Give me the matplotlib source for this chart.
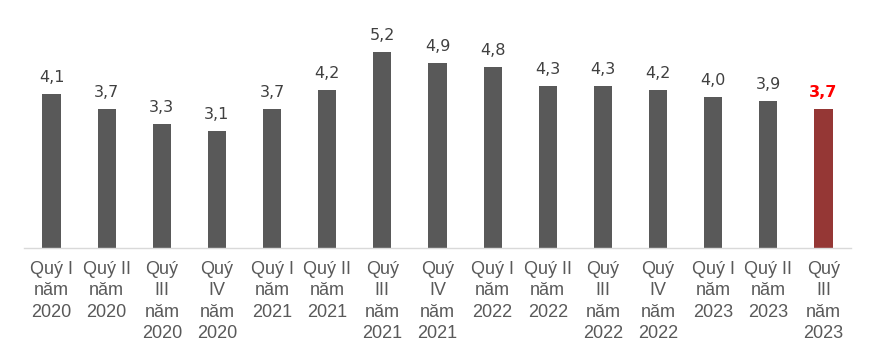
import matplotlib
matplotlib.use("Agg")
import matplotlib.pyplot as plt

categories = ["Quý I\nnăm\n2020", "Quý II\nnăm\n2020", "Quý\nIII\nnăm\n2020", "Quý\nIV\nnăm\n2020",
              "Quý I\nnăm\n2021", "Quý II\nnăm\n2021", "Quý\nIII\nnăm\n2021", "Quý\nIV\nnăm\n2021",
              "Quý I\nnăm\n2022", "Quý II\nnăm\n2022", "Quý\nIII\nnăm\n2022", "Quý\nIV\nnăm\n2022",
              "Quý I\nnăm\n2023", "Quý II\nnăm\n2023", "Quý\nIII\nnăm\n2023"]
values = [4.1, 3.7, 3.3, 3.1, 3.7, 4.2, 5.2, 4.9, 4.8, 4.3, 4.3, 4.2, 4.0, 3.9, 3.7]
value_labels = ["4,1", "3,7", "3,3", "3,1", "3,7", "4,2", "5,2", "4,9", "4,8", "4,3", "4,3", "4,2", "4,0", "3,9", "3,7"]

fig = plt.figure(figsize=(8.76, 3.62), dpi=100)
ax = fig.add_axes([24/876, 1-248/362, 827/876, 226/362])
x = list(range(len(values)))
colors = ["#595959"] * (len(values) - 1) + ["#953735"]
ax.bar(x, values, width=0.33, color=colors)
ax.set_xlim(-0.5, len(values) - 0.5)
ax.set_ylim(0, 6)
for i, (v, lab) in enumerate(zip(values, value_labels)):
    last = i == len(values) - 1
    ax.text(i, v + 0.24, lab, ha="center", va="bottom",
            fontsize=11.5, family="DejaVu Sans",
            color="#FF0000" if last else "#404040",
            fontweight="bold" if last else "normal")
ax.set_xticks(x)
ax.set_xticklabels(categories, fontsize=13, family="Liberation Sans", color="#595959",
                   linespacing=1.35, va="top")
ax.tick_params(axis="x", length=0, pad=9)
ax.set_yticks([])
for s in ["top", "right", "left"]:
    ax.spines[s].set_visible(False)
ax.spines["bottom"].set_color("#D9D9D9")
ax.spines["bottom"].set_linewidth(1)
fig.savefig("out.png", dpi=100)
